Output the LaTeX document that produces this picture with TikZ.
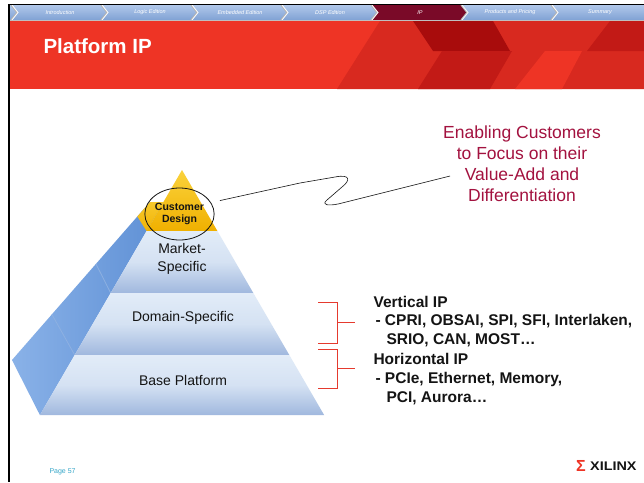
\documentclass[tikz,border=0pt]{standalone}
\usepackage{fontspec}
\setmainfont{Liberation Sans}
\usetikzlibrary{shapes.geometric}
\definecolor{navtab}{RGB}{128,162,212}
\definecolor{navtabtop}{RGB}{176,199,234}
\definecolor{navact}{RGB}{122,10,40}
\definecolor{hdred}{RGB}{238,52,37}
\definecolor{hdmid}{RGB}{216,41,31}
\definecolor{hddark}{RGB}{168,12,12}
\definecolor{hdlow}{RGB}{194,26,22}
\definecolor{callink}{RGB}{163,18,63}
\definecolor{brkred}{RGB}{229,58,46}
\definecolor{pageteal}{RGB}{53,166,200}
\definecolor{gold}{RGB}{240,176,0}
\definecolor{goldlt}{RGB}{250,210,60}
\definecolor{layertop}{RGB}{226,236,248}
\definecolor{layerbot}{RGB}{160,184,222}
\definecolor{sidelt}{RGB}{138,178,232}
\definecolor{sidedk}{RGB}{92,142,212}
\definecolor{ink}{RGB}{20,20,20}

\begin{document}
\begin{tikzpicture}[x=1pt,y=-1pt,
    navtxt/.style={text=white,font=\fontsize{5.5}{6}\selectfont\itshape},
    layertxt/.style={align=center,text=ink,font=\fontsize{14}{18}\selectfont},
    iptxt/.style={anchor=west,text=ink,font=\fontsize{15.5}{17}\selectfont\bfseries},
    brk/.style={brkred,line width=0.9pt},
    slab/.style={top color=layertop,bottom color=layerbot,middle color=layertop!80!layerbot}]
  \useasboundingbox (0,0) rectangle (644,482);
  \fill[white] (0,0) rectangle (644,482);

  % header band with the chevron pattern
  \fill[hdred] (9,21) rectangle (644,89);
  \fill[hdmid] (380,21) -- (644,21) -- (644,89) -- (337,89) -- cycle;
  \fill[hddark] (413,21) -- (493,21) -- (510,51) -- (433,51) -- cycle;
  \fill[hdlow] (442,51) -- (512,51) -- (490,89) -- (418,89) -- cycle;
  \fill[hdred] (545,51) -- (582,51) -- (562,89) -- (515,89) -- cycle;
  \fill[hdlow] (610,21) -- (644,21) -- (644,51) -- (587,51) -- cycle;
  \node[anchor=west,text=white,font=\fontsize{20.5}{22}\selectfont\bfseries]
     (title) at (40,46) {Platform IP};

  % navigation bar
  \shade[top color=navtabtop,bottom color=navtab] (9,5) rectangle (644,20);
  \fill[navact] (372,5) -- (462,5) -- (468,12.5) -- (462,20) -- (372,20) -- (378,12.5) -- cycle;
  \foreach \i in {0,...,6}{
     \pgfmathsetmacro{\xs}{12+\i*90}
     \draw[gray!60,line width=1.2pt] ({\xs-1},5) -- ({\xs+5},12.5) -- ({\xs-1},20);
     \draw[white,line width=0.8pt] (\xs,5) -- ({\xs+6},12.5) -- (\xs,20);
  }
  \foreach \i/\lab in {0/Introduction,1/Logic Edition,2/Embedded Edition,3/DSP Edition,
                       4/IP,5/Products and Pricing,6/Summary}{
     \pgfmathsetmacro{\xl}{12+\i*90}
     \node[navtxt] (nav\i) at ({\xl+48},12.5) {\lab};
  }
  \draw[gray!50,line width=0.6pt] (9,20.5) -- (644,20.5);
  \draw[black,line width=1.2pt] (9,4.5) -- (644,4.5);
  \draw[black,line width=1.5pt] (9,4) -- (9,482);

  % pyramid: side face
  \begin{scope}
     \clip (39.9,415) -- (12,360) -- (150,202) -- (163.4,202) -- cycle;
     \shade[left color=sidelt,right color=sidedk] (10,195) rectangle (170,420);
     \shade[top color=goldlt,bottom color=gold] (120,190) -- (170,190) -- (170,235) -- (146.6,231) -- (137,216) -- cycle;
     \draw[sidedk!70!white,line width=0.8pt] (110.7,293) -- (95,262);
     \draw[sidedk!70!white,line width=0.8pt] (74.7,355) -- (50,311);
  \end{scope}
  % pyramid: front layers
  \shade[top color=goldlt,bottom color=gold] (182,170) -- (217.4,231) -- (146.6,231) -- cycle;
  \shade[slab] (146.6,231) -- (217.4,231) -- (253.3,293) -- (110.7,293) -- cycle;
  \shade[slab] (110.7,293) -- (253.3,293) -- (289.3,355) -- (74.7,355) -- cycle;
  \shade[slab] (74.7,355) -- (289.3,355) -- (324.1,415) -- (39.9,415) -- cycle;

  \node[ellipse,draw=ink,line width=0.8pt,minimum width=65pt,minimum height=52pt,
        inner sep=0pt,align=center,text=ink,font=\fontsize{10.5}{12}\selectfont\bfseries]
     (cust) at (179.5,214) {Customer\\Design};
  \node[layertxt] (mkt) at (182,259) {Market-\\Specific};
  \node[layertxt] (dom) at (183,318) {Domain-Specific};
  \node[layertxt] (base) at (183,380) {Base Platform};

  % callout
  \node[align=center,text=callink,font=\fontsize{17.5}{21}\selectfont]
     (enab) at (522,164) {Enabling Customers\\to Focus on their\\Value-Add and\\Differentiation};
  \coordinate (lend) at (450,176);
  \draw[ink,line width=0.6pt,shorten <=9pt] (cust.20) -- (300,183) -- (335,177)
     .. controls (350,174) and (351,180) .. (342,187) -- (327,200)
     .. controls (321,205) and (328,206) .. (338,204) -- (lend);

  % brackets and IP lists
  \foreach \t/\b in {302/343,349/388}{
     \draw[brk] (318,\t) -- (337,\t) -- (337,\b) -- (318,\b);
     \draw[brk] (337,{(\t+\b)/2}) -- (355,{(\t+\b)/2});
  }
  \foreach \i/\y/\x/\txt in {0/302/370/{Vertical IP},
                             1/321/372/{- CPRI, OBSAI, SPI, SFI, Interlaken,},
                             2/340/383/{SRIO, CAN, MOST\ldots},
                             3/359/370/{Horizontal IP},
                             4/379/372/{- PCIe, Ethernet, Memory,},
                             5/398/383/{PCI, Aurora\ldots}}{
     \node[iptxt] (ip\i) at (\x,\y) {\txt};
  }

  % footer
  \node[anchor=west,text=pageteal,font=\fontsize{7}{8}\selectfont] (pg) at (46,472) {Page 57};
  \node[text=hdred,font=\fontsize{16}{17}\selectfont\bfseries,inner sep=0pt] (sig) at (581,466) {Σ};
  \node[anchor=west,text=ink,inner sep=0pt,font=\fontsize{12.5}{13}\selectfont\bfseries]
     (xlx) at (590,466) {\scalebox{1.15}[1]{XILINX}};
\end{tikzpicture}
\end{document}
